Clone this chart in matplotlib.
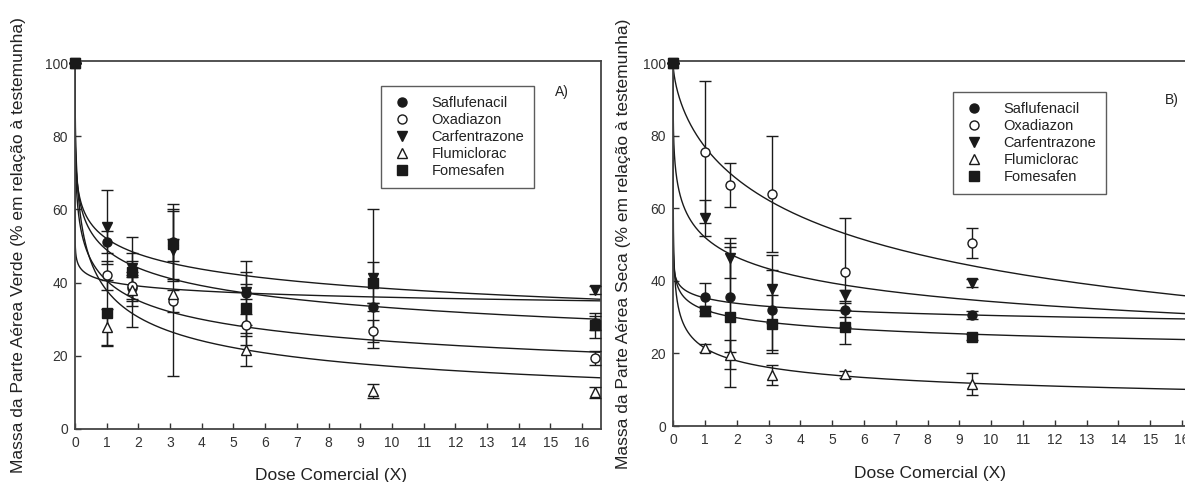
import numpy as np
import matplotlib.pyplot as plt
from matplotlib.lines import Line2D

plt.rcParams['font.family'] = ['Liberation Sans', 'DejaVu Sans']

herbicidas = ["Saflufenacil", "Oxadiazon", "Carfentrazone", "Flumiclorac", "Fomesafen"]

# Massa verde (A): media e desvio por dose
verde_doses = [0, 1, 1.8, 3.1, 5.4, 9.4, 16.4]
verde_media = [
    [100, 51.0, 38.5, 51.0, 37.2, 33.3, 29.0],
    [100, 42.0, 39.0, 35.0, 28.4, 26.8, 19.4],
    [100, 55.2, 44.0, 49.0, 37.5, 41.2, 38.0],
    [100, 27.9, 38.0, 37.0, 21.7, 10.4, 10.1],
    [100, 31.7, 43.0, 50.5, 33.0, 40.0, 28.3],
]
verde_erro = [
    [0, 3.0, 3.0, 10.5, 8.8, 1.0, 2.0],
    [0, 4.0, 4.0, 3.0, 3.0, 3.0, 2.0],
    [0, 10.0, 2.0, 3.0, 2.0, 19.0, 1.0],
    [0, 5.0, 10.0, 22.5, 4.6, 2.0, 1.5],
    [0, 9.0, 9.5, 9.5, 10.0, 5.6, 3.5],
]
# parametros do ajuste log-logistico (b = inclinacao, e = dose de 50%)
verde_b = [0.287, 0.336, 0.242, 0.4705, 0.082]
verde_e = [0.861, 0.319, 1.393, 0.349, 0.0088]

# Massa seca (B)
seca_doses = [0, 1, 1.8, 3.1, 5.4, 9.4]
seca_media = [
    [100, 35.5, 35.5, 32.0, 32.0, 30.6],
    [100, 75.5, 66.4, 63.9, 42.4, 50.4],
    [100, 57.3, 46.3, 37.7, 36.0, 39.4],
    [100, 21.5, 19.6, 14.0, 14.3, 11.6],
    [100, 31.7, 30.0, 28.1, 27.3, 24.5],
]
seca_erro = [
    [0, 3.9, 15.0, 11.0, 2.0, 1.2],
    [0, 19.5, 6.0, 16.0, 15.0, 4.1],
    [0, 5.0, 5.5, 9.3, 1.5, 1.2],
    [0, 1.0, 4.0, 2.8, 1.0, 3.0],
    [0, 1.5, 19.3, 8.0, 4.7, 0.8],
]
seca_b = [0.0952, 0.642, 0.317, 0.3199, 0.147]
seca_e = [0.00172, 6.52, 1.287, 0.01745, 0.00595]

marcadores = ['o', 'o', 'v', '^', 's']
cheio = [True, False, True, False, True]
cor = '#1a1a1a'


def loglogistico(x, b, e):
    return 100 / (1 + (x / e) ** b)


def painel(ax, doses, media, erro, b_list, e_list, letra, ylabel, leg_pos, letra_pos):
    x = np.concatenate([[0], np.geomspace(1e-5, 16.6, 600)])
    for b, e in zip(b_list, e_list):
        ax.plot(x, loglogistico(x, b, e), color=cor, lw=1.0, zorder=2)

    for i in range(len(herbicidas)):
        ax.errorbar(doses, media[i], yerr=erro[i], fmt=marcadores[i], ms=6.5,
                    mfc=cor if cheio[i] else 'white', mec=cor, mew=1.0,
                    ecolor=cor, elinewidth=1.0, capsize=4, capthick=1.0,
                    zorder=3, clip_on=False)

    ax.set_xlim(0, 16.6)
    ax.set_ylim(0, 100.5)
    ax.set_xticks(range(0, 17))
    ax.set_yticks(range(0, 101, 20))
    ax.tick_params(direction='in', length=4, width=1, labelsize=10,
                   colors='#333333', pad=5)
    for s in ax.spines.values():
        s.set_color('#444444')
        s.set_linewidth(1.3)

    ax.set_xlabel("Dose Comercial (X)", fontsize=12.5, color='#222222')
    ax.set_ylabel(ylabel, fontsize=12.5, color='#222222')

    handles = [Line2D([], [], ls='none', marker=marcadores[i], ms=6.5,
                      mfc=cor if cheio[i] else 'white', mec=cor, mew=1.0)
               for i in range(len(herbicidas))]
    leg = ax.legend(handles, herbicidas, loc='upper left', bbox_to_anchor=leg_pos,
                    fontsize=10.5, frameon=True, fancybox=False, labelspacing=0.2,
                    handletextpad=1.25, borderpad=0.7, handlelength=1.5,
                    borderaxespad=0)
    leg.get_frame().set_edgecolor('#333333')
    leg.get_frame().set_linewidth(1.0)
    for t in leg.get_texts():
        t.set_color('#222222')

    ax.text(letra_pos[0], letra_pos[1], letra, transform=ax.transAxes,
            fontsize=10, color='#222222', va='center')


fig = plt.figure(figsize=(11.85, 4.82), dpi=100)
ax1 = fig.add_axes([0.0633, 0.110, 0.444, 0.763])
ax2 = fig.add_axes([0.568, 0.116, 0.4456, 0.757])

painel(ax1, verde_doses, verde_media, verde_erro, verde_b, verde_e, "A)",
       "Massa da Parte Aérea Verde (% em relação à testemunha)",
       (0.582, 0.932), (0.913, 0.916))
ax1.yaxis.set_label_coords(-0.093, 0.5)
ax1.xaxis.set_label_coords(0.487, -0.106)

painel(ax2, seca_doses, seca_media, seca_erro, seca_b, seca_e, "B)",
       "Massa da Parte Aérea Seca (% em relação à testemunha)",
       (0.530, 0.915), (0.932, 0.893))
ax2.yaxis.set_label_coords(-0.080, 0.5)
ax2.xaxis.set_label_coords(0.487, -0.11)

fig.savefig("out.png", dpi=100)
